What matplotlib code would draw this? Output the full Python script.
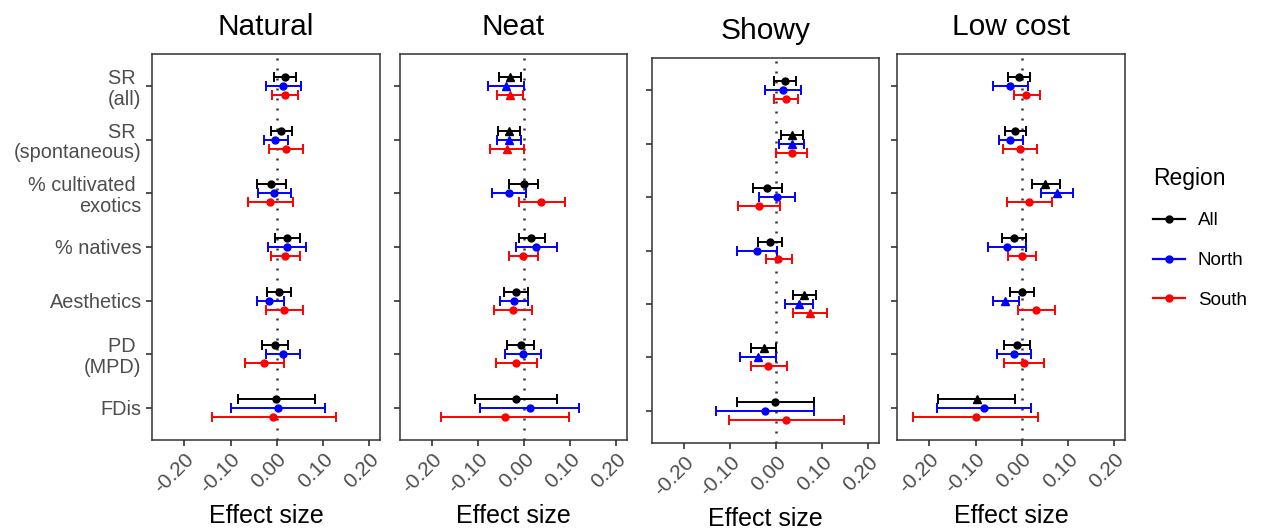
import numpy as np
import matplotlib
matplotlib.use("Agg")
import matplotlib.pyplot as plt
from matplotlib.lines import Line2D

plt.rcParams['font.family'] = ['Liberation Sans', 'DejaVu Sans']

# ---- data ----
panels = ["Natural", "Neat", "Showy", "Low cost"]
metrics = ["SR \n(all)", "SR \n(spontaneous)", "% cultivated \nexotics", "% natives",
           "Aesthetics", "PD \n(MPD)", "FDis"]
regions = ["All", "North", "South"]
region_colors = ["black", "blue", "red"]

# rows = metrics, for each region: mean, lower, upper
natural_mean = [[0.017, 0.014, 0.017], [0.009, -0.003, 0.020], [-0.012, -0.006, -0.015],
                [0.022, 0.022, 0.017], [0.004, -0.016, 0.016], [-0.004, 0.014, -0.028],
                [-0.002, 0.003, -0.008]]
natural_lo = [[-0.006, -0.023, -0.011], [-0.013, -0.028, -0.017], [-0.042, -0.041, -0.063],
              [-0.004, -0.020, -0.013], [-0.021, -0.044, -0.023], [-0.033, -0.023, -0.069],
              [-0.085, -0.100, -0.141]]
natural_hi = [[0.042, 0.052, 0.045], [0.033, 0.023, 0.057], [0.020, 0.031, 0.034],
              [0.049, 0.063, 0.049], [0.031, 0.015, 0.057], [0.024, 0.051, 0.016],
              [0.083, 0.104, 0.128]]

neat_mean = [[-0.032, -0.040, -0.032], [-0.034, -0.033, -0.038], [-0.001, -0.033, 0.037],
             [0.015, 0.025, -0.003], [-0.017, -0.023, -0.024], [-0.008, -0.003, -0.017],
             [-0.019, 0.012, -0.041]]
neat_lo = [[-0.056, -0.078, -0.060], [-0.057, -0.059, -0.075], [-0.034, -0.071, -0.012],
           [-0.012, -0.018, -0.034], [-0.044, -0.052, -0.065], [-0.037, -0.043, -0.062],
           [-0.107, -0.096, -0.181]]
neat_hi = [[-0.007, -0.001, -0.002], [-0.009, -0.007, -0.001], [0.030, 0.004, 0.088],
           [0.044, 0.070, 0.029], [0.009, 0.009, 0.016], [0.020, 0.036, 0.028],
           [0.070, 0.118, 0.097]]

showy_mean = [[0.018, 0.014, 0.021], [0.033, 0.033, 0.033], [-0.020, 0.002, -0.038],
              [-0.014, -0.041, 0.004], [0.061, 0.049, 0.073], [-0.026, -0.040, -0.017],
              [-0.002, -0.025, 0.022]]
showy_lo = [[-0.004, -0.025, -0.005], [0.011, 0.006, -0.001], [-0.051, -0.037, -0.083],
            [-0.040, -0.085, -0.023], [0.036, 0.019, 0.036], [-0.055, -0.078, -0.056],
            [-0.086, -0.132, -0.103]]
showy_hi = [[0.042, 0.054, 0.047], [0.057, 0.061, 0.067], [0.012, 0.040, 0.007],
            [0.013, 0.002, 0.035], [0.087, 0.080, 0.110], [-0.001, -0.001, 0.023],
            [0.081, 0.081, 0.147]]

lowcost_mean = [[-0.007, -0.025, 0.010], [-0.015, -0.025, -0.004], [0.051, 0.075, 0.015],
                [-0.017, -0.032, 0.000], [0.000, -0.036, 0.031], [-0.011, -0.017, 0.004],
                [-0.098, -0.082, -0.100]]
lowcost_lo = [[-0.030, -0.062, -0.017], [-0.037, -0.049, -0.041], [0.021, 0.041, -0.033],
              [-0.042, -0.073, -0.030], [-0.026, -0.063, -0.008], [-0.038, -0.054, -0.038],
              [-0.181, -0.183, -0.235]]
lowcost_hi = [[0.017, 0.013, 0.039], [0.009, 0.002, 0.033], [0.083, 0.110, 0.065],
              [0.009, 0.009, 0.030], [0.026, -0.007, 0.071], [0.017, 0.020, 0.048],
              [-0.015, 0.019, 0.034]]

# triangle marker = CI excludes zero
natural_sig = [[0, 0, 0]] * 7
neat_sig = [[1, 1, 1], [1, 1, 1], [0, 0, 0], [0, 0, 0], [0, 0, 0], [0, 0, 0], [0, 0, 0]]
showy_sig = [[0, 0, 0], [1, 1, 0], [0, 0, 0], [0, 0, 0], [1, 1, 1], [1, 1, 0], [0, 0, 0]]
lowcost_sig = [[0, 0, 0], [0, 0, 0], [1, 1, 0], [0, 0, 0], [0, 1, 0], [0, 0, 0], [1, 0, 0]]

panel_data = [
    (natural_mean, natural_lo, natural_hi, natural_sig),
    (neat_mean, neat_lo, neat_hi, neat_sig),
    (showy_mean, showy_lo, showy_hi, showy_sig),
    (lowcost_mean, lowcost_lo, lowcost_hi, lowcost_sig),
]

xticks = [-0.2, -0.1, 0.0, 0.1, 0.2]
xticklabels = ["-0.20", "-0.10", "0.00", "0.10", "0.20"]

# ---- figure ----
W, H = 1263, 530
fig = plt.figure(figsize=(W / 100, H / 100), dpi=100)

# axes boxes in pixels: left, top, right, bottom
boxes = [(152, 54, 380, 440), (400, 54, 627, 440), (652, 58, 879, 443), (897, 54, 1125, 440)]
offsets = [0.168, 0.0, -0.168]
grey = "#4d4d4d"

for p, name in enumerate(panels):
    l, t, r, b = boxes[p]
    ax = fig.add_axes([l / W, 1 - b / H, (r - l) / W, (b - t) / H])
    mean, lo, hi, sig = [np.array(a, dtype=float) for a in panel_data[p]]
    ypos = np.arange(len(metrics))[::-1] + 1

    ax.axvline(0, color="#333333", lw=1.8, ls=(0, (0.8, 3.2)), zorder=1)
    for k in range(len(regions)):
        for i in range(len(metrics)):
            y = ypos[i] + offsets[k]
            m = mean[i, k]
            ax.errorbar(m, y, xerr=[[m - lo[i, k]], [hi[i, k] - m]],
                        fmt="^" if sig[i, k] else "o", color=region_colors[k],
                        ms=5.5 if sig[i, k] else 5, elinewidth=1.4, capsize=3.4,
                        capthick=1.4, zorder=3)

    ax.set_xlim(-0.27, 0.223)
    ax.set_ylim(0.4, 7.6)
    ax.set_yticks(ypos)
    if p == 0:
        ax.set_yticklabels(metrics, fontsize=14.3, color=grey, linespacing=1.1)
    else:
        ax.set_yticklabels([])
    ax.set_xticks(xticks)
    ax.set_xticklabels(xticklabels, rotation=45, ha="right", rotation_mode="anchor",
                       fontsize=15, color=grey)
    ax.tick_params(axis="both", length=4, width=1.2, color="#333333")
    ax.tick_params(axis="x", pad=3)
    for s in ax.spines.values():
        s.set_color("#333333")
        s.set_linewidth(1.1)
    ax.set_title(name, fontsize=21.5, pad=14)
    ax.set_xlabel("Effect size", fontsize=18, labelpad=5)

# legend
handles = [Line2D([0], [0], color=c, marker="o", ms=5, lw=1.6) for c in region_colors]
fig.legend(handles, regions, loc="upper left", bbox_to_anchor=(1136 / W, 1 - 150 / H),
           frameon=False, title="Region", title_fontsize=16.5, fontsize=13.5,
           handlelength=1.7, handletextpad=0.7, labelspacing=1.2, alignment="left")

fig.savefig("out.png", dpi=100)
